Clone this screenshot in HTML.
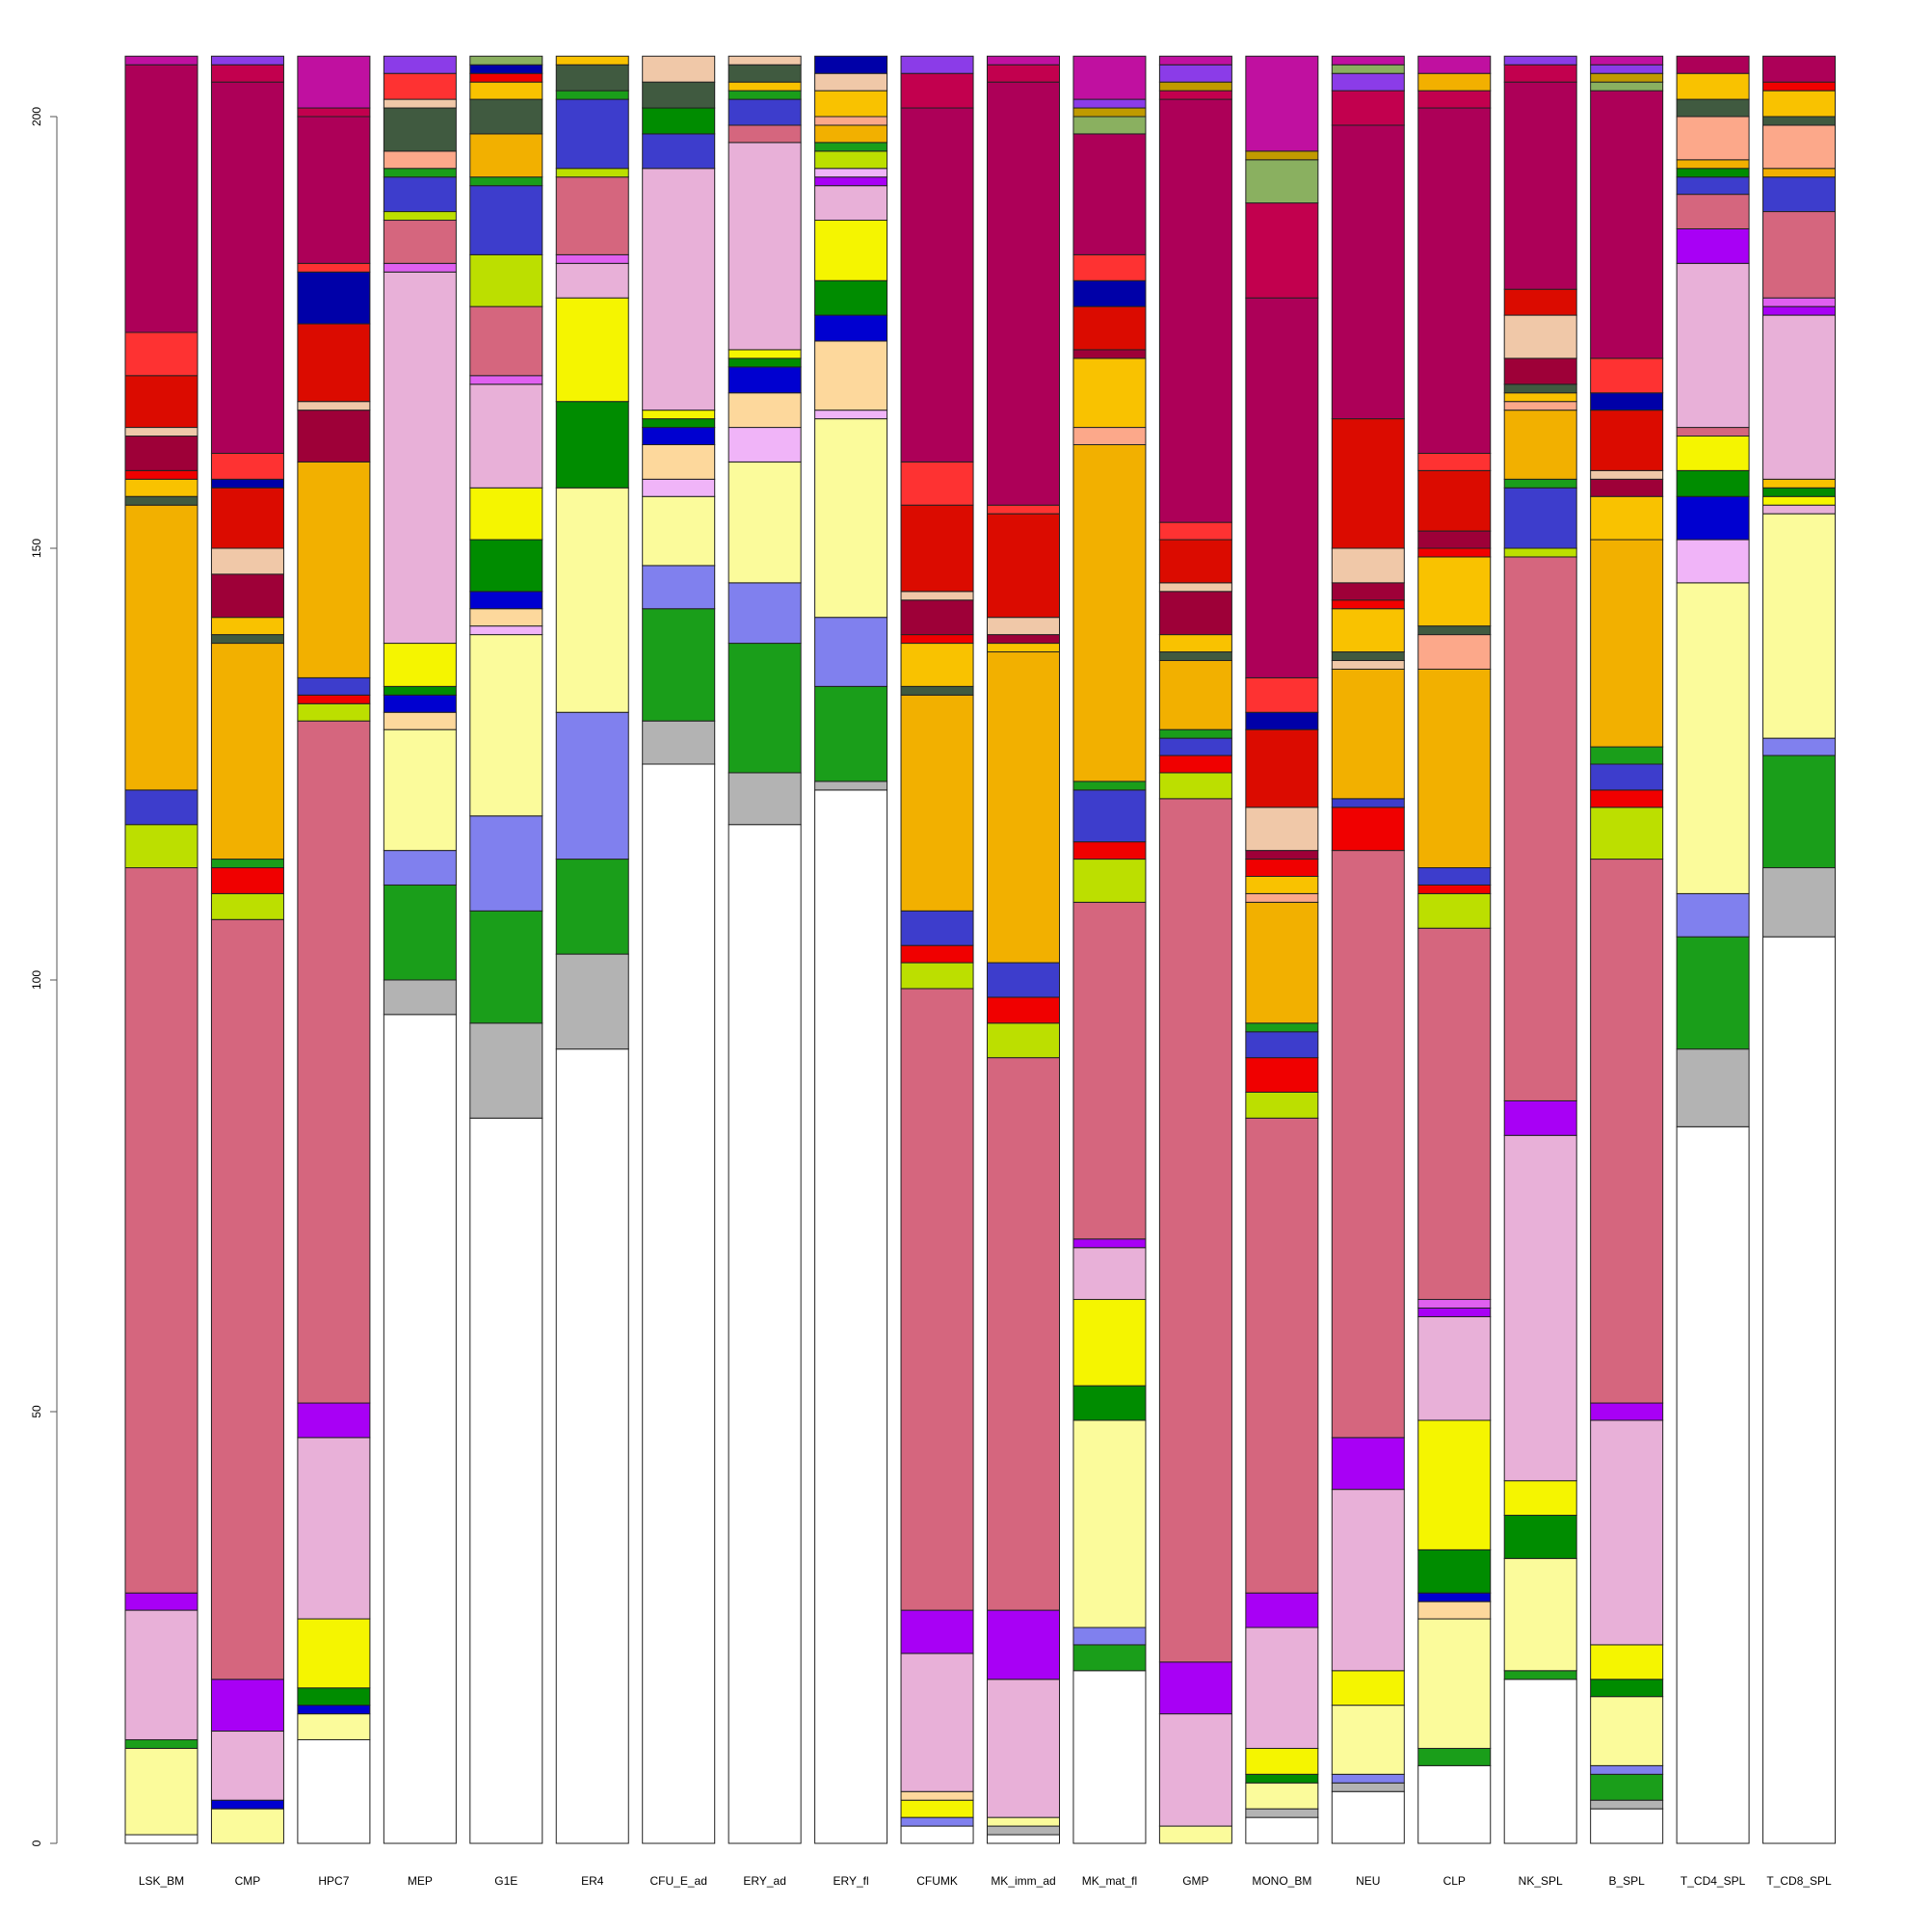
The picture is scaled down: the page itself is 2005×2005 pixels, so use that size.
<!DOCTYPE html>
<html><head><meta charset="utf-8"><style>
html,body{margin:0;padding:0;background:#fff;}
svg{display:block;font-family:"Liberation Sans",sans-serif;}
</style></head><body>
<svg id="chart" width="2005" height="2005" viewBox="0 0 2005 2005" xmlns="http://www.w3.org/2000/svg"></svg>
<script>
const categories=["LSK_BM","CMP","HPC7","MEP","G1E","ER4","CFU_E_ad","ERY_ad","ERY_fl","CFUMK","MK_imm_ad","MK_mat_fl","GMP","MONO_BM","NEU","CLP","NK_SPL","B_SPL","T_CD4_SPL","T_CD8_SPL"];
const yTicks=[0,50,100,150,200];
const palette={W:"#ffffff",GR:"#b3b3b3",G:"#1a9e1a",LV:"#8080ee",LY:"#fbfb9b",LP:"#f0b4f8",PE:"#fdd89c",Y:"#f5f500",DG:"#008c00",B:"#0000d0",PK:"#e8b0d8",PU:"#a800f5",PR:"#d5667e",LI:"#bcdf00",R:"#f00000",RB:"#3d3dcc",OR:"#f2b000",GG:"#405a40",SA:"#fca88a",GO:"#f9c200",BE:"#f0c8a8",CR:"#9e0038",DR:"#db0b00",LR:"#fe3232",MA:"#ad0058",C2:"#c2004e",VI:"#8b3ce8",OG:"#8ab060",OL:"#c09a00",MG:"#c010a0",NV:"#0000a8",LVI:"#e060f0"};
const segStates=[
["W","LY","G","PK","PU","PR","LI","RB","OR","GG","GO","R","CR","BE","DR","LR","MA","MG"],
["LY","B","PK","PU","PR","LI","R","G","OR","GG","GO","CR","BE","DR","NV","LR","MA","C2","VI"],
["W","LY","B","DG","Y","PK","PU","PR","LI","R","RB","OR","CR","BE","DR","NV","LR","MA","C2","MG"],
["W","GR","G","LV","LY","PE","B","DG","Y","PK","LVI","PR","LI","RB","G","SA","GG","BE","LR","VI"],
["W","GR","G","LV","LY","LP","PE","B","DG","Y","PK","LVI","PR","LI","RB","G","OR","GG","GO","R","NV","OG"],
["W","GR","G","LV","LY","DG","Y","PK","LVI","PR","LI","RB","G","GG","GO"],
["W","GR","G","LV","LY","LP","PE","B","DG","Y","PK","RB","DG","GG","BE"],
["W","GR","G","LV","LY","LP","PE","B","DG","Y","PK","PR","RB","G","GO","GG","BE"],
["W","GR","G","LV","LY","LP","PE","B","DG","Y","PK","PU","LP","LI","G","OR","SA","GO","BE","NV"],
["W","LV","Y","PE","PK","PU","PR","LI","R","RB","OR","GG","GO","R","CR","BE","DR","LR","MA","C2","VI"],
["W","GR","LY","PK","PU","PR","LI","R","RB","OR","GO","CR","BE","DR","LR","MA","C2","MG"],
["W","G","LV","LY","DG","Y","PK","PU","PR","LI","R","RB","G","OR","SA","GO","CR","DR","NV","LR","MA","OG","OL","VI","MG"],
["LY","PK","PU","PR","LI","R","RB","G","OR","GG","GO","CR","BE","DR","LR","MA","C2","OL","VI","MG"],
["W","GR","LY","DG","Y","PK","PU","PR","LI","R","RB","G","OR","SA","GO","R","CR","BE","DR","NV","LR","MA","C2","OG","OL","MG"],
["W","GR","LV","LY","Y","PK","PU","PR","R","RB","OR","BE","GG","GO","R","CR","BE","DR","MA","C2","VI","OG","MG"],
["W","G","LY","PE","B","DG","Y","PK","PU","LVI","PR","LI","R","RB","OR","SA","GG","GO","R","CR","DR","LR","MA","C2","OR","MG"],
["W","G","LY","DG","Y","PK","PU","PR","LI","RB","G","OR","SA","GO","GG","CR","BE","DR","MA","C2","VI"],
["W","GR","G","LV","LY","DG","Y","PK","PU","PR","LI","R","RB","G","OR","GO","CR","BE","DR","NV","LR","MA","OG","OL","VI","MG"],
["W","GR","G","LV","LY","LP","B","DG","Y","PR","PK","PU","PR","RB","DG","OR","SA","GG","GO","MA"],
["W","GR","G","LV","LY","PK","Y","DG","GO","PK","PU","LVI","PR","RB","OR","SA","GG","GO","R","MA"]
];
const segValues=[
[1,10,1,15,2,84,5,4,33,1,2,1,4,1,6,5,31,1],
[4,1,8,6,88,3,3,1,25,1,2,5,3,7,1,3,43,2,1],
[12,3,1,2,8,21,4,79,2,1,2,25,6,1,9,6,1,17,1,6],
[96,4,11,4,14,2,2,1,5,43,1,5,1,4,1,2,5,1,3,2],
[84,11,13,11,21,1,2,2,6,6,12,1,8,6,8,1,5,4,2,1,1,1],
[92,11,11,17,26,10,12,4,1,9,1,8,1,3,1],
[125,5,13,5,8,2,4,2,1,1,28,4,3,3,3],
[118,6,15,7,14,4,4,3,1,1,24,2,3,1,1,2,1],
[122,1,11,8,23,1,8,3,4,7,4,1,1,2,1,2,1,3,2,2],
[2,1,2,1,16,5,72,3,2,4,25,1,5,1,4,1,10,5,41,4,2],
[1,1,1,16,8,64,4,3,4,36,1,1,2,12,1,49,2,1],
[20,3,2,24,4,10,6,1,39,5,2,6,1,39,2,8,1,5,3,3,14,2,1,1,5],
[2,13,6,100,3,2,2,1,8,1,2,5,1,5,2,49,1,1,2,1],
[3,1,3,1,3,14,4,55,3,4,3,1,14,1,2,2,1,5,9,2,4,44,11,5,1,11],
[6,1,1,8,4,21,6,68,5,1,15,1,1,5,1,2,4,15,34,4,2,1,1],
[9,2,15,2,1,5,15,12,1,1,43,4,1,2,23,4,1,8,1,2,7,2,40,2,2,2],
[19,1,13,5,4,40,4,63,1,7,1,8,1,1,1,3,5,3,24,2,1],
[4,1,3,1,8,2,4,26,2,63,6,2,3,2,24,5,2,1,7,2,4,31,1,1,1,1],
[83,9,13,5,36,5,5,3,4,1,19,4,4,2,1,1,5,2,3,2],
[105,8,13,2,26,1,1,1,1,19,1,1,10,4,1,5,1,3,1,3]
];
const NS="http://www.w3.org/2000/svg";
const svg=document.getElementById('chart');
const y0=1913, pxPerUnit=8.96, barLeft0=130, barStep=89.45, barW=75;
function yScale(v){return y0-v*pxPerUnit;}
function xScale(i){return barLeft0+i*barStep;}
function mk(tag,attrs){const e=document.createElementNS(NS,tag);for(const k in attrs)e.setAttribute(k,attrs[k]);return e;}
const axis=mk('g',{});


svg.appendChild(axis);
const al=mk('line',{x1:59,x2:59,y1:yScale(yTicks[0]),y2:yScale(yTicks[yTicks.length-1]),stroke:'#555','stroke-width':1});


axis.appendChild(al);
yTicks.forEach(t=>{
  const tk=mk('line',{x1:52,x2:59,y1:yScale(t),y2:yScale(t),stroke:'#555','stroke-width':1});
  
  
  axis.appendChild(tk);
  const tx=mk('text',{x:0,y:0,'font-size':12,'text-anchor':'middle',fill:'#000',transform:`translate(42,${yScale(t)}) rotate(-90)`});
  tx.textContent=String(t);
  
  
  axis.appendChild(tx);
});
categories.forEach((c,i)=>{
  const g=mk('g',{});
  
  
  svg.appendChild(g);
  let cum=0;
  segValues[i].forEach((v,j)=>{
    const r=mk('rect',{x:xScale(i),y:yScale(cum+v),width:barW,height:v*pxPerUnit,fill:palette[segStates[i][j]],stroke:'#222','stroke-width':1});
    
    
    g.appendChild(r);
    cum+=v;
  });
  const lb=mk('text',{x:xScale(i)+barW/2,y:1956,'font-size':12,'text-anchor':'middle',fill:'#000'});
  lb.textContent=c;
  
  
  svg.appendChild(lb);
});
</script>
</body></html>
